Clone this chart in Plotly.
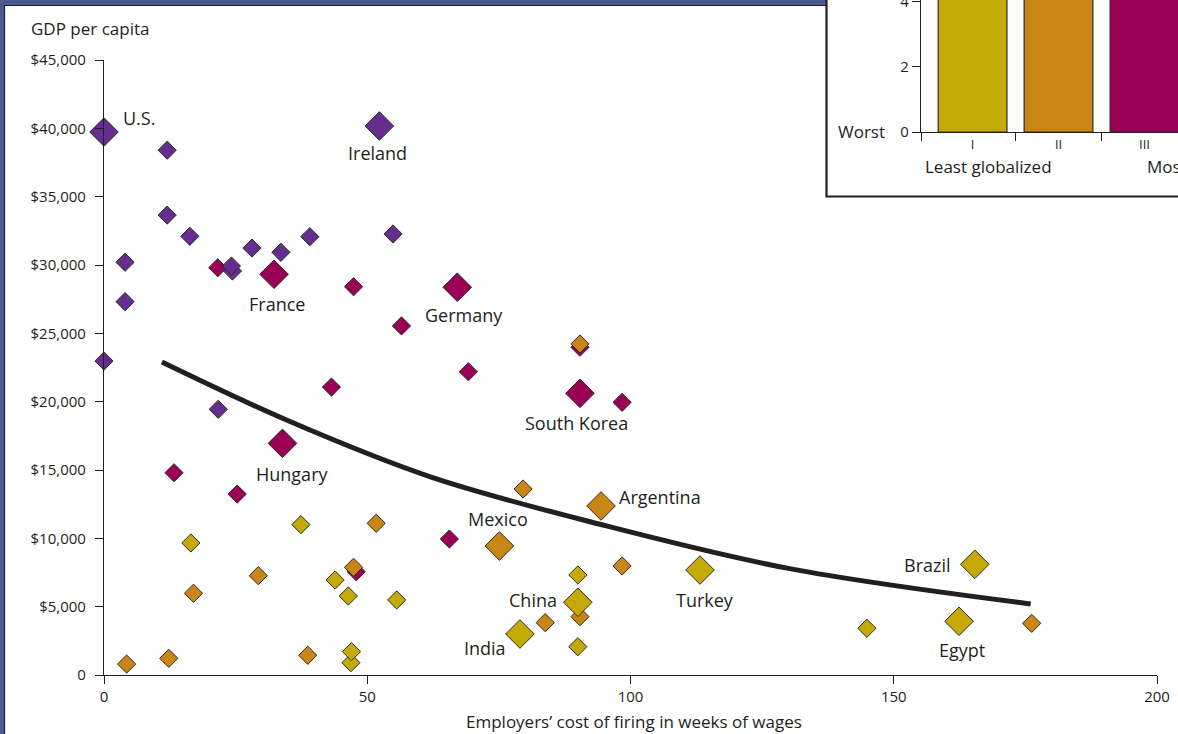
import plotly.graph_objects as go

W, H = 1178, 734
TXT = "#231f20"
FONT = "Open Sans"

# ---------------- data ----------------
group_names = ["I", "II", "III", "IV"]
group_colors = {"I": "#c4aa04", "II": "#c98614", "III": "#9b0057", "IV": "#662d91"}

# Group I (least globalized)
x_I = [16.5, 37.4, 43.9, 46.4, 55.6, 46.9, 47.0, 90.0, 90.0, 79.0, 90.0, 113.2, 165.4, 162.4, 144.9]
y_I = [9660, 11000, 6950, 5780, 5490, 900, 1710, 7320, 5320, 3000, 2070, 7680, 8100, 3930, 3420]
lab_I = ["", "", "", "", "", "", "", "", "China", "India", "", "Turkey", "Brazil", "Egypt", ""]

# Group II
x_II = [79.6, 94.4, 51.7, 75.1, 98.4, 29.3, 47.4, 17.0, 90.4, 83.8, 4.3, 12.3, 38.7, 176.2, 90.4]
y_II = [13610, 12370, 11100, 9440, 7980, 7270, 7880, 5980, 4270, 3830, 800, 1220, 1440, 3780, 24220]
lab_II = ["", "Argentina", "", "Mexico", "", "", "", "", "", "", "", "", "", "", ""]

# Group III
x_III = [32.3, 21.6, 47.4, 67.1, 56.5, 43.2, 69.2, 90.4, 90.4, 98.4, 33.9, 13.3, 25.3, 65.6, 47.9]
y_III = [29320, 29800, 28410, 28370, 25540, 21070, 22190, 23980, 20610, 19950, 16950, 14800, 13240, 9950, 7560]
lab_III = ["France", "", "", "Germany", "", "", "", "", "South Korea", "", "Hungary", "", "", "", ""]

# Group IV (most globalized)
x_IV = [0, 52.3, 12.0, 12.0, 16.3, 4.0, 4.0, 0, 28.1, 24.4, 24.2, 33.6, 39.1, 54.9, 21.7]
y_IV = [39730, 40170, 38400, 33650, 32100, 30200, 27320, 22975, 31240, 29560, 29925, 30930, 32070, 32270, 19440]
lab_IV = ["U.S.", "Ireland", "", "", "", "", "", "", "", "", "", "", "", "", ""]

# Trend curve
trend_x = [11, 35, 62, 94, 130, 176]
trend_y = [22900, 18600, 14500, 11050, 7800, 5200]

# Axis ticks
x_ticks = [0, 50, 100, 150, 200]
y_ticks = [0, 5000, 10000, 15000, 20000, 25000, 30000, 35000, 40000, 45000]
y_ticktext = ["0", "$5,000", "$10,000", "$15,000", "$20,000", "$25,000",
              "$30,000", "$35,000", "$40,000", "$45,000"]

# Inset bar chart (tops are cut off in the picture: values estimated)
bar_cats = ["I", "II", "III", "IV"]
bar_vals = [5.6, 6.3, 7.1, 7.8]
inset_y_ticks = [0, 2, 4]

# ---------------- styles ----------------
label_style = {
    "U.S.": ("left", 17, 14),
    "Ireland": ("center", -2, -27),
    "France": ("center", 3, -30),
    "Germany": ("center", 7, -28),
    "South Korea": ("center", -3, -30),
    "Hungary": ("center", 10, -31),
    "Argentina": ("left", 16, 9),
    "Mexico": ("center", -1, 27),
    "China": ("right", -19, 2),
    "India": ("right", -12, -14),
    "Turkey": ("center", 5, -30),
    "Brazil": ("right", -22, -1),
    "Egypt": ("center", 3, -29),
}

series = {
    "I": (x_I, y_I, lab_I),
    "II": (x_II, y_II, lab_II),
    "III": (x_III, y_III, lab_III),
    "IV": (x_IV, y_IV, lab_IV),
}

fig = go.Figure()

# trend line
fig.add_trace(go.Scatter(
    x=trend_x, y=trend_y, mode="lines", line=dict(color=TXT, width=5, shape="spline", smoothing=1),
    hoverinfo="skip", xaxis="x", yaxis="y", cliponaxis=False))

annotations = []
for g in ["III", "IV", "II", "I"]:
    xs, ys, labs = series[g]
    sizes = [22 if l else 14 for l in labs]
    fig.add_trace(go.Scatter(
        x=xs, y=ys, mode="markers", name=g, text=labs, cliponaxis=False,
        marker=dict(symbol="diamond", size=sizes, color=group_colors[g], opacity=1,
                    line=dict(color="#2a2a2a", width=1)),
        xaxis="x", yaxis="y"))
    for xv, yv, l in zip(xs, ys, labs):
        if l:
            anc, dx, dy = label_style[l]
            annotations.append(dict(
                x=xv, y=yv, xref="x", yref="y", text=l, showarrow=False,
                xanchor=anc, yanchor="middle", xshift=dx, yshift=dy,
                font=dict(size=18, color=TXT, family=FONT)))

# inset bars
fig.add_trace(go.Bar(
    x=list(range(len(bar_cats))), y=bar_vals, width=0.8,
    marker=dict(color=[group_colors[c] for c in bar_cats], line=dict(color="#2a2a2a", width=1.2)),
    xaxis="x2", yaxis="y2", hoverinfo="skip"))

def px(v):
    return v / W

def py(v):
    return 1 - v / H

shapes = [
    # white panel inside blue frame
    dict(type="rect", xref="paper", yref="paper", x0=px(4.5), y0=py(760), x1=px(1200), y1=py(5.5),
         fillcolor="white", line=dict(color="#1e1e1e", width=1.2), layer="below"),
    # inset box
    dict(type="rect", xref="paper", yref="paper", x0=px(826.5), y0=py(196.5), x1=px(1200), y1=py(-20),
         fillcolor="white", line=dict(color="#1e1e1e", width=2.2), layer="below"),
]

annotations += [
    dict(x=px(29), y=py(29), xref="paper", yref="paper", text="GDP per capita", showarrow=False,
         xanchor="left", yanchor="middle", font=dict(size=17, color=TXT, family=FONT)),
    dict(x=px(634), y=py(721), xref="paper", yref="paper",
         text="Employers\u2019 cost of firing in weeks of wages", showarrow=False,
         xanchor="center", yanchor="middle", font=dict(size=17, color=TXT, family=FONT)),
    dict(x=px(887), y=py(131), xref="paper", yref="paper", text="Worst", showarrow=False,
         xanchor="right", yanchor="middle", font=dict(size=17, color=TXT, family=FONT)),
    dict(x=px(988), y=py(167), xref="paper", yref="paper", text="Least globalized", showarrow=False,
         xanchor="center", yanchor="middle", font=dict(size=17, color=TXT, family=FONT)),
    dict(x=px(1145), y=py(167), xref="paper", yref="paper", text="Most globalized", showarrow=False,
         xanchor="left", yanchor="middle", font=dict(size=17, color=TXT, family=FONT)),
]

axis_common = dict(showgrid=False, zeroline=False, showline=True, linecolor=TXT, linewidth=1.2,
                   ticks="outside", ticklen=8, tickwidth=1.2, tickcolor=TXT, automargin=False,
                   tickfont=dict(size=15, color=TXT, family=FONT))

fig.update_layout(
    template="none",
    width=W, height=H, margin=dict(l=0, r=0, t=0, b=0, pad=0), autosize=False,
    paper_bgcolor="#4d5b93", plot_bgcolor="rgba(0,0,0,0)",
    showlegend=False, font=dict(family=FONT, color=TXT, size=15),
    xaxis=dict(domain=[px(104), px(1157)], range=[0, 200], tickvals=x_ticks,
               anchor="y", **axis_common),
    yaxis=dict(domain=[py(675), py(60)], range=[0, 45000], tickvals=y_ticks, ticktext=y_ticktext,
               anchor="x", ticklabelstandoff=6, **axis_common),
    xaxis2=dict(domain=[px(921), 1], range=[-0.6, 2.39], anchor="y2", automargin=False,
                tickvals=list(range(len(bar_cats))), ticktext=bar_cats,
                showgrid=False, zeroline=False, showline=True, linecolor=TXT, linewidth=1.2,
                ticks="", tickfont=dict(size=13, color=TXT, family=FONT),
                minor=dict(tickvals=[-0.6, 0.5, 1.5], ticks="outside", ticklen=8,
                           tickwidth=1.2, tickcolor=TXT)),
    yaxis2=dict(domain=[py(132), 1], range=[0, 4.06], anchor="x2", tickvals=inset_y_ticks,
                ticklabeloverflow="allow", **axis_common),
    shapes=shapes, annotations=annotations,
)

fig.write_html("out.html", config={"displayModeBar": False, "responsive": False},
               post_script="document.body.style.margin='0';document.body.style.overflow='hidden';")
